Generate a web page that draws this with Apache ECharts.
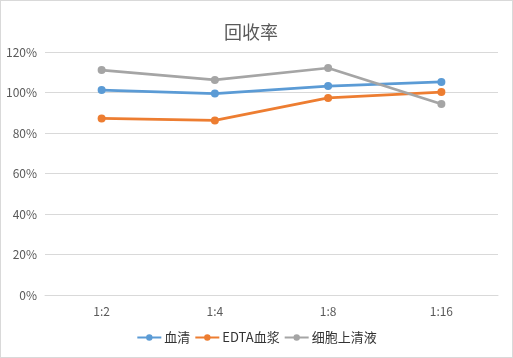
<!DOCTYPE html>
<html><head><meta charset="utf-8">
<script src="https://cdn.jsdelivr.net/npm/echarts@6/dist/echarts.min.js"></script>
<style>html,body{margin:0;padding:0;background:#fff}#c{width:511px;height:356px;border:1px solid #d9d9d9}</style>
</head><body><div id="c"></div>
<script>
const categories = ['1:2','1:4','1:8','1:16'];
const serum = [1.012, 0.995, 1.032, 1.052];
const edta = [0.872, 0.862, 0.973, 1.002];
const cellSup = [1.111, 1.062, 1.121, 0.943];
const seriesNames = ['血清','EDTA血浆','细胞上清液'];
const colors = ['#5B9BD5','#ED7D31','#A5A5A5'];
const chart = echarts.init(document.getElementById('c'));
const font = 'Microsoft YaHei, "Noto Sans CJK SC", sans-serif';
const mk = (name, data, i) => ({
  name, type: 'line', data, symbol: 'circle', symbolSize: 8,
  lineStyle: {width: 2.75, color: colors[i]}, itemStyle: {color: colors[i]}
});
chart.setOption({
  animation: false,
  title: {text: '回收率', left: 218, top: 17, textStyle: {fontSize: 18, fontWeight: 'normal', color: '#595959', fontFamily: font}},
  legend: {bottom: 8, left: 'center', itemWidth: 24, itemHeight: 8, itemGap: 4, textStyle: {fontSize: 13, color: '#333', fontFamily: font, padding: [0,0,0,-2]}, data: seriesNames},
  grid: {left: 44, right: 14, top: 51, bottom: 62},
  xAxis: {type: 'category', data: categories, boundaryGap: true,
    axisLine: {lineStyle: {color: '#d9d9d9'}}, axisTick: {show: false},
    axisLabel: {color: '#595959', fontSize: 12, margin: 10, fontFamily: font}},
  yAxis: {type: 'value', min: 0, max: 1.2, interval: 0.2,
    axisLine: {show: false}, axisTick: {show: false},
    splitLine: {lineStyle: {color: '#d9d9d9'}},
    axisLabel: {color: '#595959', fontSize: 12, margin: 8, fontFamily: font, formatter: v => Math.round(v*100) + '%'}},
  series: [mk(seriesNames[0], serum, 0), mk(seriesNames[1], edta, 1), mk(seriesNames[2], cellSup, 2)]
});
</script></body></html>
